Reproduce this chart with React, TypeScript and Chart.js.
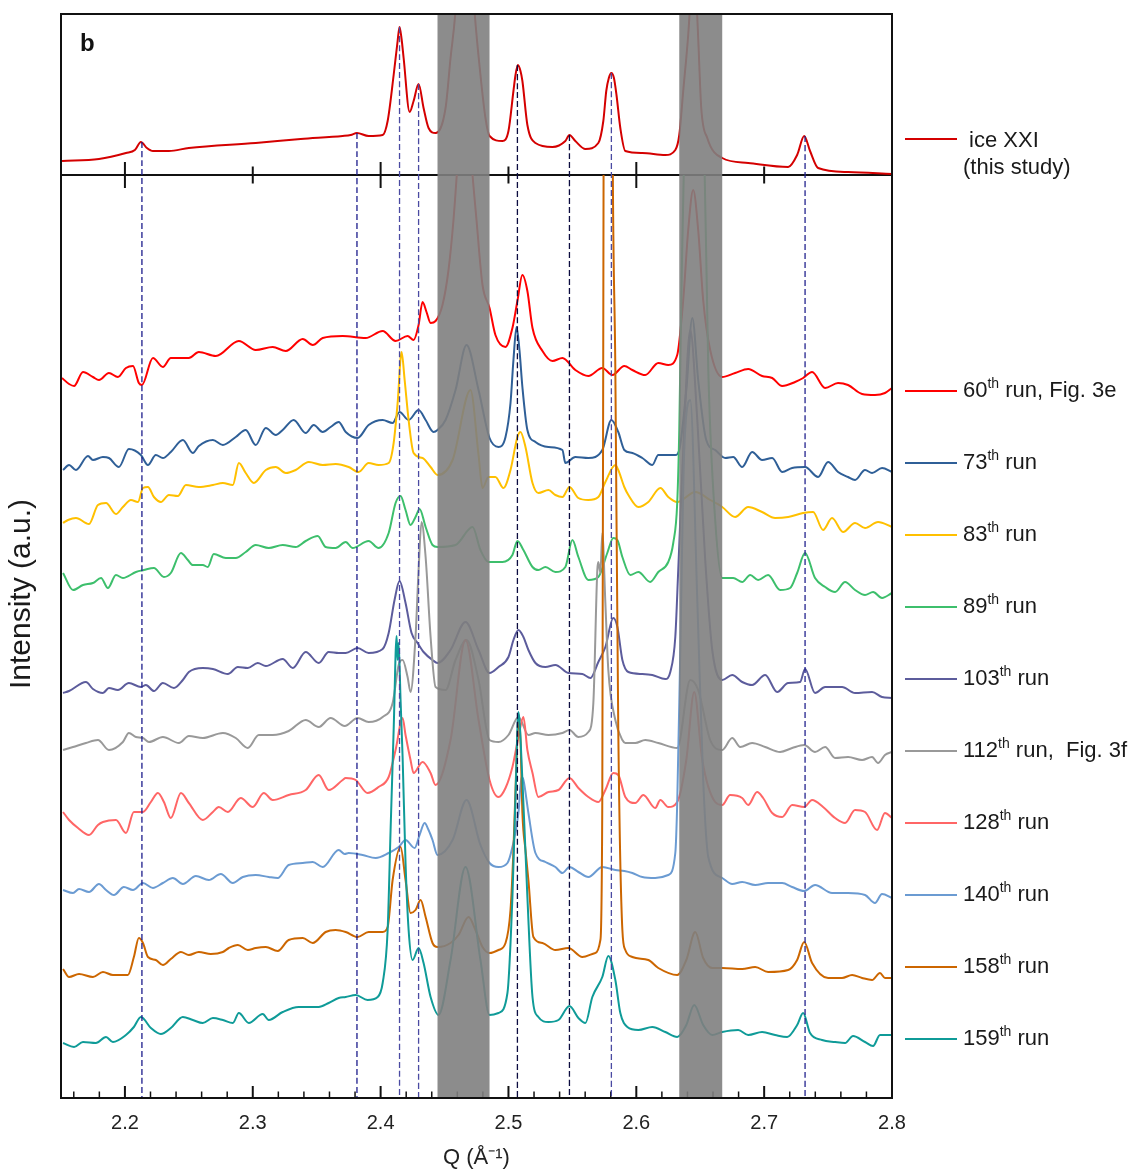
import React, { useEffect, useRef } from 'react';
import { Chart, registerables } from 'chart.js';

Chart.register(...registerables);

const FONT = '"Liberation Sans", Arial, Helvetica, sans-serif';

// Intensity axis (a.u.): lower panel 0..92.3, upper panel 92.3..108.4
const Y_MIN = 0;
const Y_SPLIT = 92.3;
const Y_MAX = 108.4;
const Q_MIN = 2.15;
const Q_MAX = 2.8;

const tickValues = [2.2, 2.3, 2.4, 2.5, 2.6, 2.7, 2.8];
const midMajorTicks = [2.2, 2.4, 2.6];
const midMinorTicks = [2.3, 2.5, 2.7];

const bandStarts = [2.4445, 2.6336];
const bandEnds = [2.4852, 2.6672];

// reference (dashed) lines: position and top (ice XXI peak height)
const refQ = [2.2133, 2.3815, 2.4148, 2.4297, 2.507, 2.5477, 2.5805, 2.732];
const refTop = [95.6, 96.5, 107.1, 101.4, 103.3, 96.3, 102.5, 96.2];
const refColors = ['#1c1c8c', '#1c1c8c', '#4a4aa2', '#4a4aa2', '#0c0c40', '#0c0c40', '#4a4aa2', '#22228e'];

const iceXXI: [number, number][] = [
  [2.1508, 93.7], [2.1797, 93.9], [2.2008, 94.5], [2.2078, 94.8], [2.2125, 95.6], [2.2172, 95.0], [2.2219, 94.7],
  [2.2344, 94.7], [2.25, 95.0], [2.3023, 95.5], [2.3375, 95.9], [2.3703, 96.2], [2.3766, 96.3], [2.3815, 96.5],
  [2.3906, 96.2], [2.4016, 96.3], [2.4055, 97.7], [2.4102, 102.3], [2.4133, 105.7], [2.4148, 107.1], [2.4164, 105.9],
  [2.418, 104.0], [2.4227, 98.6], [2.4258, 99.7], [2.4297, 101.4], [2.4336, 99.0], [2.4375, 97.0], [2.443, 96.5],
  [2.4508, 99.0], [2.4547, 104.0], [2.4586, 108.8], [2.4656, 125.0], [2.4734, 108.8], [2.4781, 102.3], [2.482, 98.0],
  [2.4852, 96.2], [2.4953, 95.7], [2.5, 96.7], [2.5039, 100.7], [2.5055, 102.3], [2.5074, 103.3], [2.5094, 102.7],
  [2.5109, 101.7], [2.5148, 97.3], [2.5211, 95.5], [2.5344, 95.1], [2.5445, 95.7], [2.5477, 96.3], [2.5523, 95.7],
  [2.5602, 94.9], [2.5703, 95.5], [2.5742, 97.7], [2.5765, 100.7], [2.5785, 102.0], [2.5805, 102.5], [2.5825, 102.0],
  [2.5845, 100.3], [2.5875, 97.0], [2.5914, 94.7], [2.6047, 94.5], [2.6227, 94.3], [2.6305, 94.8], [2.6336, 96.3],
  [2.6367, 100.7], [2.6406, 106.3], [2.643, 111.0], [2.6453, 113.0], [2.647, 110.0], [2.6485, 105.7], [2.6508, 99.0],
  [2.6555, 96.0], [2.6672, 94.0], [2.6875, 93.5], [2.7188, 93.1], [2.7258, 94.3], [2.7313, 96.2], [2.7359, 94.7],
  [2.7422, 93.0], [2.7656, 92.6], [2.8, 92.4],
];

const run60: [number, number][] = [
  [2.1508, 72.0], [2.1563, 71.4], [2.1602, 71.2], [2.1672, 72.6], [2.175, 72.1], [2.1797, 71.8], [2.1875, 72.5],
  [2.1945, 72.1], [2.2008, 73.0], [2.2063, 73.2], [2.2109, 71.5], [2.2133, 71.3], [2.2219, 74.0], [2.2297, 73.1],
  [2.2359, 74.0], [2.25, 74.0], [2.2578, 74.6], [2.2711, 74.2], [2.2891, 75.7], [2.3023, 74.8], [2.3156, 75.1],
  [2.3258, 74.7], [2.3391, 75.9], [2.3469, 75.3], [2.3547, 76.0], [2.3703, 76.2], [2.3883, 76.0], [2.4016, 76.7],
  [2.4117, 75.7], [2.4211, 76.2], [2.4258, 75.8], [2.4297, 77.3], [2.4328, 79.6], [2.4359, 78.6], [2.4391, 77.5],
  [2.443, 77.7], [2.4484, 79.3], [2.4531, 82.8], [2.457, 87.8], [2.4609, 94.8], [2.4656, 103.8], [2.4703, 94.8],
  [2.475, 87.8], [2.4797, 81.3], [2.4852, 79.0], [2.4898, 76.3], [2.4977, 75.1], [2.5031, 77.0], [2.507, 79.7],
  [2.5109, 82.3], [2.5148, 80.7], [2.5188, 77.0], [2.5266, 74.7], [2.5344, 73.7], [2.5422, 74.0], [2.5523, 72.8],
  [2.5625, 72.2], [2.5734, 73.0], [2.5813, 72.3], [2.5906, 73.2], [2.5969, 72.8], [2.607, 72.3], [2.6172, 73.5],
  [2.625, 73.3], [2.632, 74.3], [2.6367, 79.8], [2.6406, 86.8], [2.6445, 90.8], [2.6484, 86.8], [2.6523, 79.8],
  [2.6578, 74.8], [2.6672, 72.1], [2.6773, 72.5], [2.6875, 72.9], [2.6984, 72.2], [2.7063, 72.0], [2.7141, 71.2],
  [2.7242, 71.6], [2.7305, 72.0], [2.7375, 72.6], [2.7477, 71.0], [2.7578, 71.5], [2.7656, 71.3], [2.7766, 70.4],
  [2.7867, 70.3], [2.7945, 70.5], [2.8, 71.0],
];

const run73: [number, number][] = [
  [2.1516, 62.8], [2.1563, 63.3], [2.1617, 62.8], [2.1711, 64.2], [2.175, 63.8], [2.1828, 64.1], [2.1875, 64.0],
  [2.1953, 63.1], [2.2031, 64.9], [2.2125, 64.3], [2.218, 63.3], [2.2242, 64.3], [2.2297, 64.0], [2.2359, 64.6],
  [2.2453, 65.8], [2.2531, 64.5], [2.2578, 65.2], [2.2688, 65.8], [2.2766, 65.3], [2.2867, 66.1], [2.2945, 66.8],
  [2.3023, 65.3], [2.3102, 67.0], [2.318, 66.3], [2.3234, 66.8], [2.332, 67.8], [2.3414, 66.5], [2.3477, 67.3],
  [2.3547, 66.6], [2.3609, 67.1], [2.3672, 67.6], [2.3727, 66.6], [2.382, 66.0], [2.3906, 67.3], [2.4016, 67.8],
  [2.4094, 67.5], [2.4148, 68.6], [2.4219, 67.8], [2.4297, 68.8], [2.4352, 67.8], [2.4414, 66.6], [2.4445, 66.8],
  [2.4508, 67.8], [2.4586, 70.8], [2.4672, 75.3], [2.4766, 70.8], [2.4852, 66.0], [2.4922, 65.1], [2.4977, 66.1],
  [2.5016, 69.5], [2.5039, 73.8], [2.5063, 77.1], [2.5086, 74.8], [2.5109, 71.1], [2.5148, 66.8], [2.5211, 65.6],
  [2.5313, 65.1], [2.5422, 64.8], [2.5445, 63.5], [2.5523, 64.1], [2.5625, 64.0], [2.5734, 64.8], [2.5805, 67.8],
  [2.5859, 66.6], [2.5906, 64.8], [2.5969, 64.5], [2.6047, 64.0], [2.6125, 63.3], [2.6172, 64.3], [2.6305, 64.3],
  [2.6336, 64.8], [2.6391, 70.8], [2.6438, 78.0], [2.6484, 71.8], [2.6547, 65.8], [2.6617, 64.8], [2.6695, 64.0],
  [2.6758, 64.1], [2.6828, 63.1], [2.6906, 64.6], [2.6984, 63.8], [2.7063, 64.0], [2.7141, 62.6], [2.7219, 63.0],
  [2.732, 63.1], [2.7422, 62.1], [2.75, 63.6], [2.7578, 62.6], [2.7656, 62.1], [2.7711, 61.8], [2.7789, 62.8],
  [2.7844, 62.5], [2.7922, 63.0], [2.8, 62.6],
];

const run83: [number, number][] = [
  [2.1516, 57.5], [2.1555, 57.8], [2.1617, 58.0], [2.1719, 57.4], [2.1789, 59.3], [2.1852, 59.5], [2.193, 58.4],
  [2.1984, 59.1], [2.2047, 59.8], [2.2102, 59.6], [2.2141, 61.0], [2.218, 61.1], [2.2227, 60.1], [2.2281, 59.6],
  [2.2344, 60.3], [2.2414, 60.2], [2.2477, 61.3], [2.2578, 61.1], [2.2688, 61.3], [2.2766, 61.5], [2.2844, 61.3],
  [2.2891, 63.5], [2.2945, 62.5], [2.3008, 61.5], [2.3102, 62.8], [2.318, 63.1], [2.3258, 62.5], [2.3336, 62.8],
  [2.3438, 63.6], [2.3547, 63.3], [2.3648, 63.4], [2.375, 63.1], [2.3828, 62.6], [2.3906, 63.5], [2.3984, 63.3],
  [2.4063, 63.5], [2.4102, 65.5], [2.4133, 69.5], [2.4164, 74.6], [2.4188, 71.8], [2.4219, 67.8], [2.4258, 64.5],
  [2.4328, 64.0], [2.4391, 63.1], [2.4445, 62.3], [2.4563, 63.8], [2.4703, 70.8], [2.4766, 64.3], [2.4797, 61.0],
  [2.4844, 62.1], [2.4898, 62.1], [2.4961, 61.0], [2.5016, 62.8], [2.507, 66.1], [2.5094, 66.6], [2.5133, 65.1],
  [2.5188, 61.5], [2.5234, 60.5], [2.5313, 60.8], [2.5367, 60.3], [2.5422, 60.1], [2.5477, 61.1], [2.5547, 60.0],
  [2.5625, 59.8], [2.5703, 60.1], [2.5758, 61.6], [2.5836, 63.3], [2.5859, 62.8], [2.5906, 61.1], [2.5938, 60.3],
  [2.6016, 59.1], [2.6094, 59.6], [2.6188, 61.0], [2.625, 60.1], [2.632, 59.6], [2.6461, 60.6], [2.6578, 59.8],
  [2.6672, 59.1], [2.6773, 58.1], [2.6875, 59.1], [2.6984, 58.6], [2.7086, 58.0], [2.7188, 58.1], [2.7305, 58.5],
  [2.7383, 58.6], [2.7461, 56.8], [2.7531, 58.0], [2.7617, 56.6], [2.7711, 57.5], [2.7789, 57.0], [2.7891, 57.6],
  [2.8, 57.1],
];

const run89: [number, number][] = [
  [2.1516, 52.5], [2.1594, 50.8], [2.1672, 51.3], [2.175, 51.5], [2.1813, 52.0], [2.1867, 51.0], [2.193, 52.3],
  [2.1984, 52.0], [2.2086, 52.6], [2.2148, 52.8], [2.2227, 53.0], [2.2305, 52.1], [2.2359, 52.5], [2.2438, 54.5],
  [2.2492, 53.8], [2.2531, 53.3], [2.2609, 53.3], [2.2648, 53.1], [2.2695, 54.4], [2.2789, 54.0], [2.2867, 54.0],
  [2.2945, 54.6], [2.3023, 55.3], [2.3125, 55.0], [2.3234, 55.3], [2.3336, 55.1], [2.3414, 55.7], [2.3508, 56.2],
  [2.357, 55.1], [2.3648, 55.0], [2.3727, 55.6], [2.3781, 55.0], [2.3906, 55.7], [2.3984, 55.0], [2.4063, 56.5],
  [2.4117, 59.5], [2.4156, 60.2], [2.4195, 58.8], [2.4234, 57.3], [2.4273, 58.1], [2.4305, 58.9], [2.4352, 57.1],
  [2.4406, 55.3], [2.4445, 55.1], [2.4586, 55.3], [2.4719, 57.1], [2.4781, 54.8], [2.4844, 53.6], [2.4953, 53.6],
  [2.5031, 54.3], [2.507, 55.7], [2.5117, 54.8], [2.5188, 53.1], [2.5234, 52.8], [2.5289, 53.1], [2.5367, 52.6],
  [2.5445, 53.1], [2.55, 55.8], [2.5547, 54.1], [2.5625, 51.8], [2.5703, 52.1], [2.5773, 54.5], [2.582, 56.0],
  [2.5852, 55.8], [2.5891, 54.1], [2.5953, 52.3], [2.6016, 52.6], [2.6109, 51.6], [2.6172, 52.6], [2.625, 53.6],
  [2.6289, 55.5], [2.632, 59.5], [2.6336, 66.8], [2.6352, 79.8], [2.6375, 94.8], [2.6453, 103.8], [2.6531, 94.8],
  [2.6563, 72.8], [2.6617, 57.8], [2.6672, 52.0], [2.6758, 52.0], [2.6828, 51.6], [2.6891, 52.3], [2.6953, 51.8],
  [2.7031, 52.3], [2.7125, 50.8], [2.7203, 51.0], [2.7258, 52.5], [2.732, 54.5], [2.7398, 52.0], [2.7477, 51.1],
  [2.7555, 50.6], [2.7633, 51.6], [2.7711, 50.8], [2.7789, 50.3], [2.7852, 50.6], [2.7922, 50.0], [2.8, 50.5],
];

const run103: [number, number][] = [
  [2.1516, 40.5], [2.1563, 40.7], [2.1695, 41.6], [2.175, 40.9], [2.1828, 40.5], [2.1875, 41.0], [2.1945, 40.8],
  [2.2031, 41.5], [2.2125, 41.1], [2.2164, 41.3], [2.2227, 40.7], [2.2297, 41.5], [2.2383, 41.0], [2.2453, 41.8],
  [2.25, 42.6], [2.2609, 43.0], [2.2688, 42.9], [2.2805, 42.4], [2.2883, 43.1], [2.2961, 43.0], [2.3039, 43.5],
  [2.3102, 43.2], [2.3234, 43.9], [2.3313, 43.0], [2.3414, 44.6], [2.3516, 43.5], [2.3594, 44.6], [2.3672, 44.5],
  [2.3727, 44.5], [2.382, 45.0], [2.3906, 44.5], [2.4016, 44.9], [2.4063, 46.5], [2.4109, 49.8], [2.4148, 51.7],
  [2.4195, 49.5], [2.4242, 46.5], [2.4289, 45.5], [2.4336, 44.6], [2.4406, 43.8], [2.4445, 43.5], [2.4547, 44.8],
  [2.4664, 47.6], [2.4766, 44.8], [2.4852, 42.5], [2.4922, 43.1], [2.5, 44.1], [2.5039, 45.8], [2.5078, 46.8],
  [2.5117, 46.1], [2.5156, 44.8], [2.5211, 43.5], [2.5289, 43.1], [2.5367, 43.3], [2.5469, 42.5], [2.5578, 42.4],
  [2.5641, 42.0], [2.5703, 43.6], [2.5758, 45.1], [2.582, 48.0], [2.5852, 47.1], [2.5891, 43.8], [2.5938, 42.6],
  [2.6047, 42.4], [2.6125, 42.3], [2.6227, 41.9], [2.6266, 42.6], [2.6305, 46.1], [2.6328, 52.8], [2.6367, 64.8],
  [2.6422, 76.8], [2.6477, 67.8], [2.6539, 53.8], [2.6594, 44.8], [2.6672, 41.8], [2.675, 42.3], [2.6828, 41.6],
  [2.6906, 41.3], [2.7008, 42.3], [2.7102, 40.6], [2.7188, 41.5], [2.7281, 41.6], [2.732, 42.9], [2.7398, 40.5],
  [2.7477, 41.1], [2.7609, 41.1], [2.7711, 40.5], [2.7844, 40.6], [2.7922, 40.1], [2.8, 40.0],
];

const run112: [number, number][] = [
  [2.1516, 34.8], [2.1594, 35.1], [2.1695, 35.5], [2.1789, 35.8], [2.1875, 34.8], [2.1984, 35.6], [2.2031, 36.5],
  [2.2086, 36.1], [2.2141, 36.0], [2.2188, 35.6], [2.2297, 36.1], [2.2422, 35.5], [2.25, 36.2], [2.2609, 36.0],
  [2.2766, 36.5], [2.2867, 36.0], [2.2961, 35.0], [2.3047, 36.3], [2.3156, 36.3], [2.3281, 36.7], [2.3414, 37.8],
  [2.3516, 37.1], [2.3609, 38.0], [2.3719, 37.2], [2.382, 38.0], [2.3906, 37.6], [2.4016, 38.1], [2.4094, 39.5],
  [2.4141, 43.3], [2.4172, 43.8], [2.4211, 42.1], [2.4234, 40.6], [2.4273, 46.1], [2.4297, 52.8], [2.432, 57.6],
  [2.4352, 54.1], [2.4391, 46.1], [2.443, 41.1], [2.4508, 40.8], [2.4586, 43.8], [2.4672, 45.8], [2.4766, 41.8],
  [2.4852, 35.8], [2.4922, 35.6], [2.5, 36.3], [2.5078, 38.1], [2.5156, 36.3], [2.5211, 36.5], [2.5313, 36.3],
  [2.5422, 36.5], [2.5477, 36.8], [2.5547, 36.1], [2.5625, 36.6], [2.5664, 39.5], [2.5695, 52.8], [2.5703, 53.6],
  [2.5719, 52.5], [2.5734, 56.5], [2.5758, 49.5], [2.5781, 42.8], [2.5836, 37.8], [2.5891, 35.8], [2.5914, 35.5],
  [2.5992, 35.5], [2.607, 35.8], [2.6172, 35.5], [2.632, 35.0], [2.6422, 41.8], [2.6484, 40.8], [2.6578, 35.8],
  [2.6672, 34.8], [2.675, 36.0], [2.6813, 35.1], [2.6906, 35.5], [2.7008, 35.1], [2.7125, 34.6], [2.7219, 35.0],
  [2.7313, 35.3], [2.7398, 34.6], [2.7477, 35.1], [2.7555, 34.0], [2.7656, 34.1], [2.7766, 33.8], [2.7844, 34.1],
  [2.7891, 33.5], [2.7945, 34.3], [2.8, 34.6],
];

const run128: [number, number][] = [
  [2.1516, 28.6], [2.1563, 27.8], [2.1633, 27.0], [2.1719, 26.3], [2.1789, 27.3], [2.1828, 27.6], [2.193, 27.8],
  [2.2008, 26.5], [2.207, 28.6], [2.2141, 28.6], [2.2203, 29.6], [2.2258, 30.5], [2.2305, 29.6], [2.2359, 28.0],
  [2.2438, 30.5], [2.25, 29.5], [2.2609, 27.8], [2.2688, 28.6], [2.2734, 29.1], [2.2805, 28.6], [2.2906, 30.0],
  [2.3, 29.1], [2.3086, 30.5], [2.3156, 29.8], [2.3281, 30.3], [2.3414, 30.8], [2.3516, 32.3], [2.3594, 30.8],
  [2.3703, 31.8], [2.3727, 32.0], [2.3805, 31.8], [2.3898, 30.5], [2.3984, 31.1], [2.4063, 32.1], [2.4117, 34.8],
  [2.4172, 38.0], [2.4195, 36.3], [2.4234, 33.8], [2.4258, 32.5], [2.4328, 33.6], [2.4391, 32.5], [2.443, 31.3],
  [2.4547, 35.8], [2.4664, 45.8], [2.4766, 37.8], [2.4852, 31.8], [2.4922, 30.1], [2.4977, 31.0], [2.5031, 33.1],
  [2.5078, 36.1], [2.5117, 38.1], [2.5148, 34.8], [2.5188, 32.5], [2.5234, 30.1], [2.5313, 30.6], [2.5391, 30.8],
  [2.5477, 32.0], [2.5547, 31.0], [2.5625, 30.1], [2.5703, 29.6], [2.5758, 30.8], [2.582, 32.5], [2.5859, 32.3],
  [2.5914, 30.1], [2.5992, 29.5], [2.6055, 30.3], [2.6148, 29.0], [2.6188, 29.8], [2.625, 29.1], [2.632, 29.6],
  [2.6391, 33.8], [2.6453, 40.6], [2.6516, 33.8], [2.6617, 29.6], [2.6672, 29.3], [2.6734, 30.3], [2.6828, 30.0],
  [2.6875, 29.3], [2.6945, 30.6], [2.6992, 30.0], [2.7063, 28.5], [2.7141, 28.1], [2.7219, 29.3], [2.7313, 29.1],
  [2.7375, 29.8], [2.7461, 29.1], [2.7555, 28.0], [2.7633, 27.5], [2.7711, 28.8], [2.7789, 28.6], [2.7883, 26.8],
  [2.7945, 28.5], [2.8, 28.0],
];

const run140: [number, number][] = [
  [2.1516, 20.8], [2.1594, 20.5], [2.1641, 20.9], [2.1719, 20.6], [2.1797, 21.4], [2.1852, 20.8], [2.1914, 20.3],
  [2.1992, 21.1], [2.2063, 20.8], [2.2141, 21.5], [2.2219, 21.0], [2.2297, 21.5], [2.2375, 22.0], [2.2453, 21.4],
  [2.2555, 22.2], [2.2656, 21.8], [2.275, 22.4], [2.2844, 21.5], [2.2922, 22.1], [2.3023, 22.3], [2.3125, 22.1],
  [2.3195, 22.0], [2.3281, 23.3], [2.3391, 23.5], [2.3469, 23.6], [2.3547, 23.1], [2.3672, 24.8], [2.3719, 24.4],
  [2.375, 24.5], [2.3859, 24.3], [2.3961, 24.0], [2.4063, 24.5], [2.4141, 25.1], [2.4195, 25.8], [2.4266, 25.0],
  [2.4305, 26.3], [2.4344, 27.5], [2.4375, 26.8], [2.4406, 25.8], [2.4445, 24.3], [2.4563, 25.8], [2.4672, 29.8],
  [2.4781, 25.3], [2.4852, 23.5], [2.4922, 23.1], [2.4992, 23.5], [2.5031, 25.1], [2.5078, 28.5], [2.5102, 32.1],
  [2.5117, 31.8], [2.5156, 28.5], [2.5211, 24.5], [2.5289, 23.6], [2.5367, 23.1], [2.5422, 22.5], [2.5477, 23.1],
  [2.5547, 22.6], [2.5625, 22.1], [2.5734, 23.1], [2.5836, 22.8], [2.5906, 22.7], [2.5969, 22.5], [2.6047, 22.1],
  [2.6148, 22.0], [2.625, 22.3], [2.6305, 24.5], [2.632, 29.5], [2.6344, 44.8], [2.6375, 64.8], [2.6422, 69.8],
  [2.6477, 49.8], [2.6523, 31.8], [2.6563, 24.1], [2.6672, 22.0], [2.675, 21.4], [2.6828, 21.6], [2.693, 21.3],
  [2.7031, 21.5], [2.7141, 21.5], [2.7219, 21.1], [2.7313, 20.7], [2.7398, 21.3], [2.7531, 20.5], [2.7656, 20.5],
  [2.7789, 20.3], [2.7867, 19.5], [2.7922, 20.4], [2.8, 20.0],
];

const run158: [number, number][] = [
  [2.1516, 12.9], [2.1563, 12.1], [2.1641, 12.4], [2.175, 12.1], [2.1828, 12.6], [2.1906, 12.3], [2.2023, 12.3],
  [2.207, 14.1], [2.2109, 16.0], [2.2141, 15.5], [2.218, 14.1], [2.2242, 13.8], [2.2297, 13.3], [2.2359, 13.9],
  [2.2438, 14.6], [2.25, 14.3], [2.2578, 14.6], [2.2672, 14.4], [2.2766, 14.6], [2.2813, 15.0], [2.2883, 15.3],
  [2.2961, 14.8], [2.3023, 15.0], [2.3102, 15.1], [2.3195, 14.7], [2.3281, 15.8], [2.3391, 16.0], [2.3469, 15.5],
  [2.357, 16.6], [2.3648, 16.8], [2.3727, 16.6], [2.382, 16.1], [2.3906, 16.6], [2.4016, 16.6], [2.4055, 17.1],
  [2.4094, 21.8], [2.4156, 25.1], [2.4195, 21.8], [2.4234, 18.5], [2.4273, 18.8], [2.4313, 19.8], [2.4352, 18.1],
  [2.4406, 15.5], [2.4445, 15.1], [2.4547, 15.5], [2.4609, 16.3], [2.4688, 18.1], [2.4742, 16.8], [2.4797, 15.1],
  [2.4852, 14.5], [2.4922, 14.8], [2.4977, 15.5], [2.5016, 18.8], [2.5039, 24.8], [2.5063, 33.8], [2.5078, 37.6],
  [2.5094, 35.8], [2.5109, 28.5], [2.5133, 24.8], [2.5156, 21.8], [2.5195, 16.1], [2.5266, 15.5], [2.5367, 14.8],
  [2.5469, 15.0], [2.5578, 14.1], [2.568, 14.5], [2.5719, 15.8], [2.5734, 30.0], [2.5745, 100.0], [2.578, 250.0],
  [2.5813, 100.0], [2.5836, 72.8], [2.5859, 36.8], [2.5891, 16.8], [2.5914, 14.8], [2.5969, 14.1], [2.6094, 13.8],
  [2.6172, 13.0], [2.632, 12.3], [2.6391, 13.8], [2.6461, 16.6], [2.6523, 14.0], [2.6594, 13.0], [2.6672, 13.0],
  [2.6828, 12.9], [2.693, 13.1], [2.7031, 12.6], [2.7188, 12.8], [2.7258, 13.8], [2.7313, 15.6], [2.7375, 13.5],
  [2.75, 12.0], [2.7609, 12.0], [2.7688, 12.3], [2.7766, 12.0], [2.7844, 11.8], [2.7906, 12.5], [2.7945, 12.0],
  [2.8, 12.0],
];

const run159: [number, number][] = [
  [2.1516, 5.5], [2.1602, 5.1], [2.1672, 5.6], [2.1773, 5.5], [2.1852, 6.1], [2.1906, 5.6], [2.2008, 6.3],
  [2.207, 7.1], [2.2125, 8.1], [2.2203, 7.0], [2.2281, 6.4], [2.2359, 7.0], [2.2453, 8.1], [2.2531, 7.8],
  [2.2609, 7.5], [2.2688, 8.0], [2.2766, 7.8], [2.2844, 7.5], [2.2891, 8.5], [2.2969, 7.5], [2.3078, 8.4],
  [2.3125, 7.8], [2.3234, 8.6], [2.3359, 9.1], [2.3516, 9.1], [2.3594, 9.5], [2.3672, 10.0], [2.3727, 10.1],
  [2.3805, 10.3], [2.3898, 9.8], [2.3977, 10.1], [2.4016, 11.5], [2.4055, 16.8], [2.4078, 26.8], [2.4102, 36.8],
  [2.4125, 46.2], [2.4133, 43.8], [2.4141, 45.5], [2.4156, 39.8], [2.4172, 34.1], [2.4195, 23.5], [2.4219, 16.8],
  [2.425, 13.8], [2.4297, 15.0], [2.4336, 13.5], [2.4391, 10.1], [2.4453, 8.3], [2.4547, 13.8], [2.4664, 23.1],
  [2.4781, 13.8], [2.4852, 8.3], [2.4922, 8.5], [2.4992, 10.5], [2.5031, 20.1], [2.5055, 30.1], [2.5078, 38.6],
  [2.5109, 31.8], [2.5148, 20.1], [2.5188, 10.1], [2.5234, 8.1], [2.5313, 7.6], [2.5391, 7.8], [2.5477, 9.2],
  [2.5547, 8.0], [2.5602, 7.5], [2.5656, 10.1], [2.5734, 12.1], [2.5781, 14.2], [2.5836, 11.8], [2.5875, 8.5],
  [2.593, 7.1], [2.6016, 6.8], [2.6125, 7.1], [2.6227, 6.6], [2.632, 6.1], [2.6391, 7.3], [2.6453, 9.3],
  [2.6523, 7.3], [2.6594, 6.3], [2.6672, 6.6], [2.6797, 6.8], [2.6875, 6.3], [2.6984, 6.6], [2.7086, 6.3],
  [2.718, 6.1], [2.7258, 7.3], [2.7305, 8.5], [2.7359, 6.5], [2.7453, 5.8], [2.7555, 5.6], [2.7633, 5.5],
  [2.7695, 6.2], [2.7789, 5.6], [2.7852, 5.2], [2.7906, 6.3], [2.8, 6.3],
];

const runNumbers = ['60', '73', '83', '89', '103', '112', '128', '140', '158', '159'];
const runNotes = [', Fig. 3e', '', '', '', '', ',  Fig. 3f', '', '', '', ''];
const runColors = ['#ff0000', '#2f5f97', '#ffc000', '#3dbf6c', '#5c5c9c', '#999999', '#ff6666', '#6b9bd2', '#cc6600', '#0f9b98'];
const runData = [run60, run73, run83, run89, run103, run112, run128, run140, run158, run159];
const iceColor = '#d40000';

const toXY = (arr: [number, number][]) => arr.map(([x, y]) => ({ x, y }));

const panelPlugin = {
  id: 'panelPlugin',
  beforeDatasetsDraw(chart: any) {
    const { ctx, chartArea: a, scales } = chart;
    const x = scales.x;
    const ySplit = scales.y.getPixelForValue(Y_SPLIT);
    ctx.save();
    ctx.strokeStyle = '#111';
    ctx.lineWidth = 2;
    ctx.beginPath();
    ctx.moveTo(a.left, ySplit);
    ctx.lineTo(a.right, ySplit);
    ctx.stroke();
    const seg = (px: number, y0: number, y1: number, w: number) => {
      ctx.lineWidth = w;
      ctx.beginPath();
      ctx.moveTo(px, y0);
      ctx.lineTo(px, y1);
      ctx.stroke();
    };
    midMajorTicks.forEach((q) => seg(x.getPixelForValue(q), ySplit - 13, ySplit + 13, 2));
    midMinorTicks.forEach((q) => seg(x.getPixelForValue(q), ySplit - 8.5, ySplit + 8.5, 2));
    // inward ticks on bottom axis
    for (let k = 0; k <= 32; k++) {
      const q = 2.16 + 0.02 * k;
      const major = Math.abs(q * 10 - Math.round(q * 10)) < 1e-6;
      const px = x.getPixelForValue(q);
      seg(px, a.bottom, a.bottom - (major ? 12 : 6.5), major ? 2 : 1.5);
    }
    ctx.restore();
  },
  beforeDatasetDraw(chart: any, args: any) {
    const ds = chart.data.datasets[args.index];
    if (ds.panel !== 'bottom') return;
    const { ctx, chartArea: a } = chart;
    const ySplit = chart.scales.y.getPixelForValue(Y_SPLIT);
    ctx.save();
    ctx.beginPath();
    ctx.rect(a.left, ySplit, a.right - a.left, a.bottom - ySplit);
    ctx.clip();
  },
  afterDatasetDraw(chart: any, args: any) {
    const ds = chart.data.datasets[args.index];
    if (ds.panel !== 'bottom') return;
    chart.ctx.restore();
  },
  afterDatasetsDraw(chart: any) {
    const { ctx, chartArea: a, scales } = chart;
    const x = scales.x;
    ctx.save();
    ctx.fillStyle = 'rgba(128,128,128,0.9)';
    bandStarts.forEach((q0, i) => {
      const x0 = x.getPixelForValue(q0);
      const x1 = x.getPixelForValue(bandEnds[i]);
      ctx.fillRect(x0, a.top + 1, x1 - x0, a.bottom - a.top - 1);
    });
    ctx.strokeStyle = '#111';
    ctx.lineWidth = 2;
    ctx.strokeRect(a.left, a.top, a.right - a.left, a.bottom - a.top);
    ctx.restore();
  },
  afterDraw(chart: any) {
    const { ctx, chartArea: a } = chart;
    ctx.save();
    // panel letter
    ctx.fillStyle = '#111';
    ctx.font = `bold 24px ${FONT}`;
    ctx.textAlign = 'left';
    ctx.textBaseline = 'alphabetic';
    ctx.fillText('b', a.left + 19, a.top + 37);
    // y title
    ctx.save();
    ctx.translate(a.left - 39, (a.top + a.bottom) / 2 + 38);
    ctx.rotate(-Math.PI / 2);
    ctx.textAlign = 'center';
    ctx.textBaseline = 'middle';
    ctx.font = `30px ${FONT}`;
    ctx.fillStyle = '#1a1a1a';
    ctx.fillText('Intensity (a.u.)', 0, 0);
    ctx.restore();
    // legend
    const lx0 = a.right + 13;
    const lx1 = a.right + 65;
    const tx = a.right + 71;
    const line = (y: number, c: string) => {
      ctx.strokeStyle = c;
      ctx.lineWidth = 2;
      ctx.beginPath();
      ctx.moveTo(lx0, y);
      ctx.lineTo(lx1, y);
      ctx.stroke();
    };
    ctx.fillStyle = '#1a1a1a';
    const iy = a.top + 125;
    line(iy, iceColor);
    ctx.font = `22px ${FONT}`;
    ctx.fillText(' ice XXI', tx, iy + 8);
    ctx.fillText('(this study)', tx, iy + 35);
    runNumbers.forEach((n, i) => {
      const y = a.top + 377 + i * 72;
      line(y, runColors[i]);
      ctx.font = `22px ${FONT}`;
      ctx.fillText(n, tx, y + 6);
      const w1 = ctx.measureText(n).width;
      ctx.font = `14px ${FONT}`;
      ctx.fillText('th', tx + w1, y - 3);
      const w2 = ctx.measureText('th').width;
      ctx.font = `22px ${FONT}`;
      ctx.fillText(' run' + runNotes[i], tx + w1 + w2, y + 6);
    });
    ctx.restore();
  },
};

export default function App() {
  const ref = useRef<HTMLCanvasElement | null>(null);
  useEffect(() => {
    document.body.style.margin = '0';
    if (!ref.current) return;
    const datasets: any[] = [
      {
        label: 'ice XXI (this study)',
        data: toXY(iceXXI),
        borderColor: iceColor,
        borderWidth: 2,
        pointRadius: 0,
        order: 11,
      },
      ...runData.map((d, i) => ({
        label: `${runNumbers[i]}th run${runNotes[i]}`,
        data: toXY(d),
        borderColor: runColors[i],
        borderWidth: 2,
        pointRadius: 0,
        order: 10 - i,
        panel: 'bottom',
      })),
      ...refQ.map((q, i) => ({
        label: `peak ${q}`,
        data: [{ x: q, y: refTop[i] }, { x: q, y: Y_MIN }],
        borderColor: refColors[i],
        borderWidth: 1.3,
        borderDash: [6, 3],
        pointRadius: 0,
        order: 0,
        cubicInterpolationMode: 'default',
      })),
    ];
    const chart = new Chart(ref.current, {
      type: 'line',
      data: { datasets },
      options: {
        animation: false,
        responsive: false,
        devicePixelRatio: 1,
        layout: { padding: { left: 61, right: 244, top: 14, bottom: 0 } },
        plugins: { legend: { display: false }, tooltip: { enabled: false } },
        elements: {
          line: { tension: 0.4, cubicInterpolationMode: 'monotone', borderJoinStyle: 'round' },
          point: { radius: 0 },
        },
        scales: {
          x: {
            type: 'linear',
            min: Q_MIN,
            max: Q_MAX,
            grid: { display: false, drawTicks: false },
            border: { display: false },
            afterBuildTicks: (s: any) => {
              s.ticks = tickValues.map((v) => ({ value: v }));
            },
            afterFit: (s: any) => {
              s.height = 75;
            },
            ticks: {
              padding: 13,
              color: '#222',
              autoSkip: false,
              maxRotation: 0,
              font: { family: FONT, size: 20 },
              callback: (v: any) => Number(v).toFixed(1),
            },
            title: {
              display: true,
              text: 'Q (Å⁻¹)',
              color: '#222',
              font: { family: FONT, size: 22 },
              padding: { top: 0, bottom: 2 },
            },
          },
          y: { type: 'linear', display: false, min: Y_MIN, max: Y_MAX },
        },
      } as any,
      plugins: [panelPlugin as any],
    });
    return () => chart.destroy();
  }, []);
  return (
    <div style={{ width: 1136, height: 1173 }}>
      <canvas ref={ref} width={1136} height={1173} style={{ display: 'block' }} />
    </div>
  );
}
